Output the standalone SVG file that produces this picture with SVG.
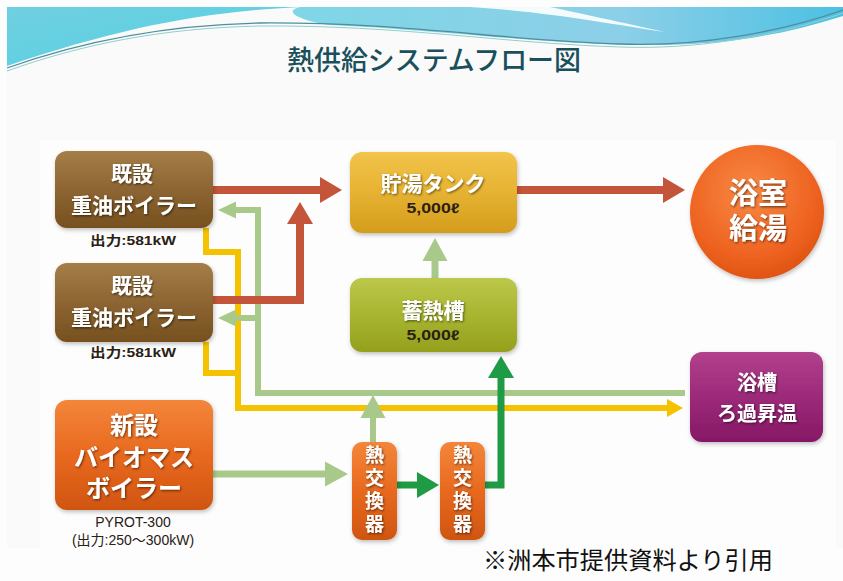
<svg xmlns="http://www.w3.org/2000/svg" width="843" height="581" viewBox="0 0 843 581">
<style>
.t{font-family:'Noto Sans CJK JP','Noto Sans',sans-serif;}
.s{font-family:'Liberation Sans','Noto Sans CJK JP',sans-serif;}
.w{fill:#fff;font-weight:700;text-anchor:middle;filter:url(#ts);}
.d{fill:#2a2014;font-weight:700;text-anchor:middle;}
.v{writing-mode:vertical-rl;text-orientation:upright;letter-spacing:4px;}
.yl{stroke:#f5c200;stroke-width:6;fill:none;}
.lg{stroke:#a9c98a;stroke-width:6;fill:none;}
.rd{stroke:#c4553a;stroke-width:8;fill:none;}
.dg{stroke:#1f9a45;stroke-width:7;fill:none;}
.box{filter:url(#bs);}
</style>
<defs>
<linearGradient id="gBrown" x1="0" y1="0" x2="0" y2="1"><stop offset="0" stop-color="#a47d48"/><stop offset="0.5" stop-color="#8d6532"/><stop offset="1" stop-color="#76501f"/></linearGradient>
<linearGradient id="gGold" x1="0" y1="0" x2="0" y2="1"><stop offset="0" stop-color="#f2c44a"/><stop offset="0.5" stop-color="#e6b232"/><stop offset="1" stop-color="#d49d1c"/></linearGradient>
<linearGradient id="gOlive" x1="0" y1="0" x2="0" y2="1"><stop offset="0" stop-color="#bcc84a"/><stop offset="0.5" stop-color="#a8b530"/><stop offset="1" stop-color="#94a01c"/></linearGradient>
<linearGradient id="gOrange" x1="0" y1="0" x2="0" y2="1"><stop offset="0" stop-color="#f3863a"/><stop offset="0.5" stop-color="#e8691f"/><stop offset="1" stop-color="#d05510"/></linearGradient>
<linearGradient id="gPurple" x1="0" y1="0" x2="0" y2="1"><stop offset="0" stop-color="#b2408c"/><stop offset="0.5" stop-color="#9c2a7a"/><stop offset="1" stop-color="#861865"/></linearGradient>
<radialGradient id="gCircle" cx="0.45" cy="0.35" r="0.7"><stop offset="0" stop-color="#f88a45"/><stop offset="0.7" stop-color="#ee6220"/><stop offset="1" stop-color="#dc5010"/></radialGradient>
<linearGradient id="gCyanL" x1="0" y1="0" x2="1" y2="1"><stop offset="0" stop-color="#6fcfe0"/><stop offset="1" stop-color="#55d2e4"/></linearGradient>
<linearGradient id="gCyanR" x1="0" y1="0" x2="1" y2="0"><stop offset="0" stop-color="#7fd6e6"/><stop offset="0.6" stop-color="#8ccfe8"/><stop offset="1" stop-color="#4cc0e2"/></linearGradient>
<filter id="ts" x="-10%" y="-20%" width="130%" height="150%"><feDropShadow dx="1" dy="1.2" stdDeviation="0.8" flood-color="#000" flood-opacity="0.55"/></filter>
<filter id="bs" x="-10%" y="-10%" width="125%" height="130%"><feDropShadow dx="1" dy="2" stdDeviation="2" flood-color="#000" flood-opacity="0.25"/></filter>
<marker id="mRed" markerUnits="userSpaceOnUse" markerWidth="24" markerHeight="28" refX="0" refY="0" orient="auto" overflow="visible"><path d="M0,-13 L22,0 L0,13 Z" fill="#c4553a"/></marker>
<marker id="mLgS" markerUnits="userSpaceOnUse" markerWidth="20" markerHeight="20" refX="0" refY="0" orient="auto" overflow="visible"><path d="M0,-8.5 L18,0 L0,8.5 Z" fill="#a9c98a"/></marker>
<marker id="mLgL" markerUnits="userSpaceOnUse" markerWidth="24" markerHeight="26" refX="0" refY="0" orient="auto" overflow="visible"><path d="M0,-12.5 L23,0 L0,12.5 Z" fill="#a9c98a"/></marker>
<marker id="mYel" markerUnits="userSpaceOnUse" markerWidth="18" markerHeight="20" refX="0" refY="0" orient="auto" overflow="visible"><path d="M0,-9 L16,0 L0,9 Z" fill="#f5c200"/></marker>
<marker id="mDg" markerUnits="userSpaceOnUse" markerWidth="24" markerHeight="28" refX="0" refY="0" orient="auto" overflow="visible"><path d="M0,-13 L22,0 L0,13 Z" fill="#1f9a45"/></marker>
</defs>

<!-- background -->
<rect x="0" y="0" width="843" height="581" fill="#fdfdfd"/>
<rect x="7" y="7" width="836" height="541" fill="#fafafa"/>
<rect x="40" y="140" width="796" height="408" fill="#fdfdfd"/>

<!-- header wave -->
<g id="header">
<path d="M7,7 L300,7 C200,12 120,28 7,66 Z" fill="url(#gCyanL)"/>
<path d="M300,7 H843 V16 C780,36 720,46 640,45 C540,44 440,30 330,25 C305,22 280,12 300,7 Z" fill="url(#gCyanR)"/>
<path d="M470,7 C550,12 610,24 665,32 C610,20 570,11 550,7 Z" fill="#f4fbfd"/>
<path d="M7,68 C80,42 160,25 260,23 C400,22 500,40 620,44 C700,47 780,32 843,10" fill="none" stroke="#4f8f9c" stroke-width="1.3"/>
<path d="M7,71 C80,45 160,28 260,26 C400,25 500,43 620,47 C700,50 780,35 843,13" fill="none" stroke="#8fd0cc" stroke-width="1"/>
<text class="t" x="434" y="70" font-size="27" font-weight="500" fill="#1a4f5c" text-anchor="middle" textLength="294" lengthAdjust="spacingAndGlyphs">熱供給システムフロー図</text>
</g>

<!-- connectors -->
<g id="connectors">
<path class="yl" d="M206,228 V252 H238 V408 H667" marker-end="url(#mYel)"/>
<path class="yl" d="M206,342 V373 H238"/>
<path class="lg" d="M685,393 H258 V210 H236" marker-end="url(#mLgS)"/>
<path class="lg" d="M258,318 H236" marker-end="url(#mLgS)"/>
<path class="lg" d="M373,442 V418" marker-end="url(#mLgL)"/>
<path class="lg" style="stroke-width:7" d="M435,278 V261" marker-end="url(#mLgL)"/>
<path class="lg" style="stroke-width:7" d="M213,474 H325" marker-end="url(#mLgL)"/>
<path class="rd" d="M213,190 H320" marker-end="url(#mRed)"/>
<path class="rd" d="M213,300 H300 V224" marker-end="url(#mRed)"/>
<path class="rd" d="M517,190 H663" marker-end="url(#mRed)"/>
<path class="dg" d="M397,485 H417" marker-end="url(#mDg)"/>
<path class="dg" d="M485,485 H501 V378" marker-end="url(#mDg)"/>
</g>

<!-- nodes -->
<g id="boiler1">
<rect class="box" x="55" y="151" width="158" height="77" rx="12" fill="url(#gBrown)"/>
<text class="t w" font-size="21"><tspan x="132" y="181">既設</tspan><tspan x="134" y="213">重油ボイラー</tspan></text>
<text class="s d" x="133" y="245" font-size="13" textLength="86" lengthAdjust="spacingAndGlyphs">出力:581kW</text>
</g>
<g id="boiler2">
<rect class="box" x="55" y="263" width="158" height="79" rx="12" fill="url(#gBrown)"/>
<text class="t w" font-size="21"><tspan x="132" y="293">既設</tspan><tspan x="134" y="325">重油ボイラー</tspan></text>
<text class="s d" x="133" y="357" font-size="13" textLength="86" lengthAdjust="spacingAndGlyphs">出力:581kW</text>
</g>
<g id="tank">
<rect class="box" x="350" y="152" width="167" height="81" rx="12" fill="url(#gGold)"/>
<text class="t w" x="433" y="191" font-size="21">貯湯タンク</text>
<text class="s d" x="433" y="213" font-size="14" textLength="53" lengthAdjust="spacingAndGlyphs">5,000ℓ</text>
</g>
<g id="storage">
<rect class="box" x="350" y="278" width="167" height="74" rx="12" fill="url(#gOlive)"/>
<text class="t w" x="433" y="318" font-size="21">蓄熱槽</text>
<text class="s d" x="433" y="340" font-size="14" textLength="53" lengthAdjust="spacingAndGlyphs">5,000ℓ</text>
</g>
<g id="bath-supply">
<circle class="box" cx="757" cy="212" r="67" fill="url(#gCircle)"/>
<text class="t w" font-size="29"><tspan x="758" y="204">浴室</tspan><tspan x="758" y="239">給湯</tspan></text>
</g>
<g id="bathtub">
<rect class="box" x="690" y="352" width="133" height="90" rx="12" fill="url(#gPurple)"/>
<text class="t w" font-size="20"><tspan x="757" y="390">浴槽</tspan><tspan x="757" y="421">ろ過昇温</tspan></text>
</g>
<g id="biomass">
<rect class="box" x="55" y="400" width="158" height="110" rx="12" fill="url(#gOrange)"/>
<text class="t w" font-size="24"><tspan x="134" y="434">新設</tspan><tspan x="134" y="466">バイオマス</tspan><tspan x="134" y="497">ボイラー</tspan></text>
<text class="s" font-size="14" fill="#2a2014" text-anchor="middle"><tspan x="133" y="527">PYROT-300</tspan><tspan x="133" y="545">(出力:250～300kW)</tspan></text>
</g>
<g id="hx1">
<rect class="box" x="352" y="442" width="45" height="98" rx="10" fill="url(#gOrange)"/>
<text class="t w v" x="374.5" y="491" font-size="19">熱交換器</text>
</g>
<g id="hx2">
<rect class="box" x="440" y="442" width="45" height="98" rx="10" fill="url(#gOrange)"/>
<text class="t w v" x="462.5" y="491" font-size="19">熱交換器</text>
</g>

<text class="t" x="483" y="569" font-size="24" fill="#111" textLength="290" lengthAdjust="spacingAndGlyphs">※洲本市提供資料より引用</text>
</svg>
